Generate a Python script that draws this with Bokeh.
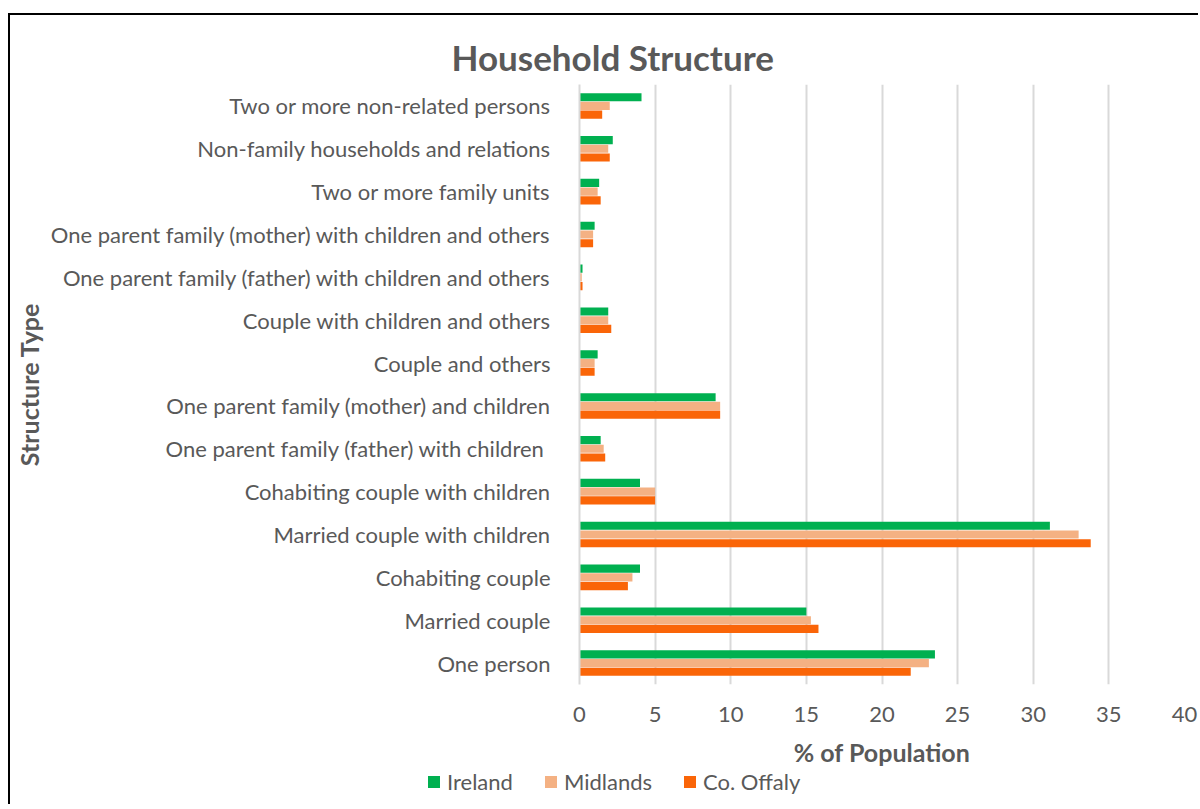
from bokeh.plotting import figure
from bokeh.layouts import column
from bokeh.models import ColumnDataSource, FactorRange, Range1d, Legend, LegendItem, FixedTicker
from bokeh.transform import dodge
from bokeh.embed import file_html
from bokeh.resources import INLINE

categories = [
    "One person",
    "Married couple",
    "Cohabiting couple",
    "Married couple with children",
    "Cohabiting couple with children",
    "One parent family (father) with  children",
    "One parent family (mother) and children",
    "Couple and others",
    "Couple with children and others",
    "One parent family (father) with children and others",
    "One parent family (mother) with children and others",
    "Two or more family units",
    "Non-family households and relations",
    "Two or more non-related persons",
]
ireland = [23.5, 15.0, 4.0, 31.1, 4.0, 1.4, 9.0, 1.2, 1.9, 0.2, 1.0, 1.3, 2.2, 4.1]
midlands = [23.1, 15.3, 3.5, 33.0, 5.0, 1.6, 9.3, 1.0, 1.9, 0.15, 0.9, 1.2, 1.9, 2.0]
offaly = [21.9, 15.8, 3.2, 33.8, 5.0, 1.7, 9.3, 1.0, 2.1, 0.2, 0.9, 1.4, 2.0, 1.5]
series_names = ["Ireland", "Midlands", "Co. Offaly"]
x_ticks = [0, 5, 10, 15, 20, 25, 30, 35, 40]

colors = ["#00B050", "#F4B183", "#FA6508"]
TXT = "#595959"
FONT = "Lato"

src = ColumnDataSource(dict(cat=categories, ireland=ireland, midlands=midlands, offaly=offaly))
series_cols = ["ireland", "midlands", "offaly"]

p = figure(
    width=1188, height=757,
    y_range=FactorRange(factors=categories),
    x_range=Range1d(0, 40),
    output_backend="svg", toolbar_location=None,
    min_border_left=568, min_border_right=14, min_border_top=69, min_border_bottom=88,
)
p.outline_line_color = None

step = 0.203
h = 0.19
offsets = [step, 0, -step]
for col, off, c in zip(series_cols, offsets, colors):
    p.hbar(y=dodge("cat", off, range=p.y_range), right=col, height=h, source=src,
           color=c, line_color=None)

# title
p.title.text = "Household Structure"
p.title.text_font = FONT
p.title.text_font_size = "35px"
p.title.text_font_style = "bold"
p.title.text_color = TXT
p.title.align = "left"
p.title.offset = -128
p.title.standoff = 13

# grid
p.ygrid.grid_line_color = None
p.xgrid.grid_line_color = "#D9D9D9"
p.xgrid.grid_line_width = 2
p.xaxis.ticker = FixedTicker(ticks=x_ticks)

# x axis
xa = p.xaxis[0]
xa.axis_line_color = None
xa.major_tick_line_color = None
xa.major_tick_out = 0
xa.major_tick_in = 0
xa.minor_tick_line_color = None
xa.major_label_text_font = FONT
xa.major_label_text_font_size = "22px"
xa.major_label_text_color = TXT
xa.major_label_standoff = 22
xa.axis_label = "% of Population"
xa.axis_label_text_font = FONT
xa.axis_label_text_font_size = "25px"
xa.axis_label_text_font_style = "bold"
xa.axis_label_text_color = TXT
xa.axis_label_standoff = 12

# y axis
ya = p.yaxis[0]
ya.axis_line_color = "#D9D9D9"
ya.axis_line_width = 2
ya.major_tick_line_color = None
ya.major_tick_out = 0
ya.major_tick_in = 0
ya.minor_tick_line_color = None
ya.major_label_text_font = FONT
ya.major_label_text_font_size = "22px"
ya.major_label_text_color = TXT
ya.major_label_standoff = 29
ya.axis_label = "Structure Type"
ya.axis_label_text_font = FONT
ya.axis_label_text_font_size = "25px"
ya.axis_label_text_font_style = "bold"
ya.axis_label_text_color = TXT
ya.axis_label_standoff = 4

# legend strip below the chart (its own frame, not aligned to the chart frame)
p2 = figure(
    width=1188, height=32,
    x_range=Range1d(0, 40), y_range=FactorRange(factors=categories),
    output_backend="svg", toolbar_location=None,
    x_axis_location=None, y_axis_location=None,
    min_border=0,
)
p2.frame_align = False
p2.outline_line_color = None
p2.xgrid.grid_line_color = None
p2.ygrid.grid_line_color = None
items = []
for name, col, c in zip(series_names, series_cols, colors):
    r = p2.hbar(y="cat", right=col, height=0, source=src, color=c, line_color=None)
    items.append(LegendItem(label=name, renderers=[r]))

legend = Legend(
    items=items,
    orientation="horizontal",
    location=(416, 9),
    glyph_width=15, glyph_height=15,
    label_text_font=FONT, label_text_font_size="22px", label_text_color=TXT,
    label_standoff=6, spacing=30, padding=0, margin=0,
    border_line_color=None, background_fill_alpha=0,
)
p2.add_layout(legend, "center")

layout = column(p, p2, spacing=0)
layout.styles = {"margin-top": "13px", "margin-left": "8px",
                 "border-left": "2px solid black", "border-top": "2px solid black"}

open("out.html", "w").write(file_html(layout, INLINE))
